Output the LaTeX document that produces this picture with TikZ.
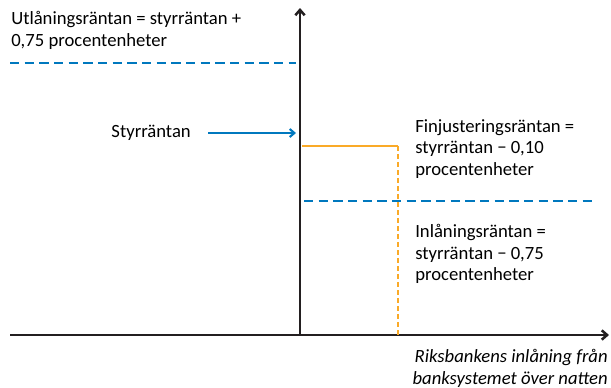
\documentclass[tikz,border=0pt]{standalone}
\usepackage{fontspec}
\setmainfont{Carlito}
\usetikzlibrary{arrows.meta}
\definecolor{rbblue}{RGB}{0,120,190}
\definecolor{rborange}{RGB}{250,170,40}
\definecolor{axisgray}{RGB}{35,31,32}
\begin{document}
\begin{tikzpicture}[x=0.75pt,y=-0.75pt,
  axis/.style={draw=axisgray,line width=1.9pt,-{Straight Barb[length=4pt,width=7pt]}},
  bluedash/.style={draw=rbblue,line width=1.6pt,dash pattern=on 7pt off 4pt},
  orangesolid/.style={draw=rborange,line width=1.6pt},
  orangedash/.style={draw=rborange,line width=1.6pt,dash pattern=on 3.5pt off 2.5pt},
  lbl/.style={font=\fontsize{14}{16.2}\selectfont,align=left,inner sep=0pt},
  ptr/.style={draw=rbblue,line width=1.6pt,-{Straight Barb[length=3.5pt,width=6pt]}}]
\useasboundingbox (0,0) rectangle (611,387);
% axes
\coordinate (o) at (300,335);
\coordinate (ytop) at (300,8);
\coordinate (xleft) at (10,335);
\coordinate (xright) at (609,335);
\draw[axis] (o) -- (ytop);
\draw[axis] (xleft) -- (xright);
% lending rate
\coordinate (l1) at (10,63);
\coordinate (l2) at (296,63);
\draw[bluedash] (l1) -- (l2);
\node[lbl,anchor=north west] (utl) at (11,11) {Utlåningsräntan = styrräntan +\\0,75 procentenheter};
% deposit rate
\coordinate (d1) at (304,201);
\coordinate (d2) at (596,201);
\draw[bluedash] (d1) -- (d2);
\node[lbl,anchor=north west] (inl) at (415,224) {Inlåningsräntan =\\styrräntan − 0,75\\procentenheter};
% fine-tuning
\coordinate (f1) at (302,146);
\coordinate (f2) at (398,146);
\coordinate (f3) at (398,335);
\draw[orangesolid] (f1) -- (f2);
\draw[orangedash] (f2) -- (f3);
\node[lbl,anchor=north west] (fin) at (415,119) {Finjusteringsräntan =\\styrräntan − 0,10\\procentenheter};
% policy rate
\node[lbl,anchor=east] (styr) at (191,133) {Styrräntan};
\coordinate (s1) at (208,133);
\coordinate (s2) at (296,133);
\draw[ptr] (s1) -- (s2);
% x-axis label
\node[lbl,anchor=north east,align=right,font=\fontsize{14}{16.2}\selectfont\itshape] (xl) at (608,349) {Riksbankens inlåning från\\banksystemet över natten};
\end{tikzpicture}
\end{document}
